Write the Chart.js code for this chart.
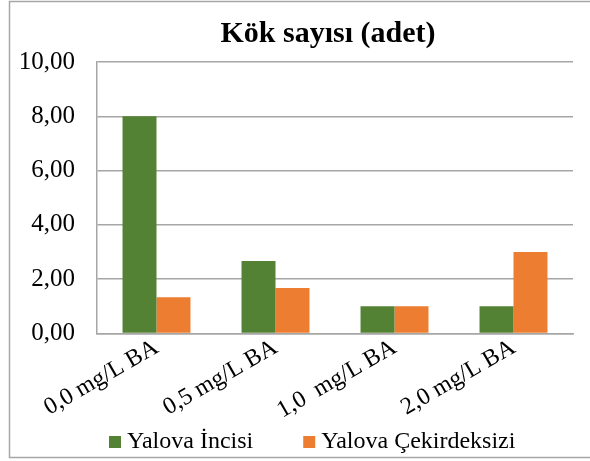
<!DOCTYPE html>
<html>
<head>
<meta charset="utf-8">
<title>Kök sayısı (adet)</title>
<script src="https://cdn.jsdelivr.net/npm/chart.js@4"></script>
<style>
  html, body { margin: 0; padding: 0; background: #fff; }
  #wrap { width: 590px; height: 461px; position: relative; }
</style>
</head>
<body>
<div id="wrap"><canvas id="chart"></canvas></div>
<script>
// chart values
const chartTitle = 'Kök sayısı (adet)';
const categories = ['0,0 mg/L BA', '0,5 mg/L BA', '1,0  mg/L BA', '2,0 mg/L BA'];
const seriesNames = ['Yalova İncisi', 'Yalova Çekirdeksizi'];
const yalovaIncisi = [8.00, 2.67, 1.00, 1.00];
const yalovaCekirdeksizi = [1.33, 1.67, 1.00, 3.00];
const yMin = 0;
const yMax = 10;
const yStep = 2;

const serif = "'Liberation Serif', 'Times New Roman', serif";
const gridGrey = '#a6a6a6';

// white background + outer frame like the Excel chart border
const framePlugin = {
    id: 'frame',
    beforeDraw(chart) {
        const ctx = chart.ctx;
        ctx.save();
        ctx.fillStyle = '#fff';
        ctx.fillRect(0, 0, chart.width, chart.height);
        ctx.strokeStyle = gridGrey;
        ctx.lineWidth = 1.5;
        ctx.strokeRect(9.5, 1.5, chart.width + 10, 456);
        ctx.restore();
    }
};

// center the title over the plot area instead of the whole canvas
const centerTitle = {
    id: 'centerTitle',
    afterLayout(chart) {
        const a = chart.chartArea;
        const box = chart.titleBlock;
        if (!box) return;
        const w = box.right - box.left;
        const mid = (a.left + a.right) / 2 - 7;
        box.left = mid - w / 2;
        box.right = mid + w / 2;
    }
};

// Excel-style legend row under the rotated category labels
const bottomLegend = {
    id: 'bottomLegend',
    afterDraw(chart) {
        const ctx = chart.ctx;
        const a = chart.chartArea;
        ctx.save();
        ctx.font = '24px ' + serif;
        ctx.textBaseline = 'middle';
        let x = a.left + 12;
        const y = 442;
        chart.data.datasets.forEach(ds => {
            ctx.fillStyle = ds.backgroundColor;
            ctx.fillRect(x, y - 6, 12, 12);
            ctx.fillStyle = '#000';
            ctx.fillText(ds.label, x + 18, y);
            x += 18 + ctx.measureText(ds.label).width + 50;
        });
        ctx.restore();
    }
};

new Chart(document.getElementById('chart'), {
    type: 'bar',
    data: {
        labels: categories,
        datasets: [{
            label: seriesNames[0],
            data: yalovaIncisi,
            backgroundColor: '#548235'
        }, {
            label: seriesNames[1],
            data: yalovaCekirdeksizi,
            backgroundColor: '#ED7D31'
        }]
    },
    options: {
        responsive: true,
        maintainAspectRatio: false,
        animation: false,
        layout: { padding: { left: 17, right: 17, top: 4, bottom: 44 } },
        datasets: {
            bar: { categoryPercentage: 0.571, barPercentage: 1.0 }
        },
        plugins: {
            title: {
                display: true,
                text: chartTitle,
                color: '#000',
                font: { family: serif, size: 30, weight: 'bold' },
                padding: { top: 12, bottom: 10 }
            },
            legend: { display: false },
            tooltip: { enabled: false }
        },
        scales: {
            x: {
                grid: { display: false },
                border: { display: true, color: gridGrey, width: 1.5 },
                ticks: {
                    color: '#000',
                    font: { family: serif, size: 24 },
                    minRotation: 30,
                    maxRotation: 30,
                    padding: -8
                },
                // rotated first label may hang past the y labels, like in Excel
                afterFit(scale) { scale.paddingLeft = 0; }
            },
            y: {
                min: yMin,
                max: yMax,
                grid: { color: gridGrey, lineWidth: 1.5, drawTicks: false },
                border: { display: true, color: gridGrey, width: 1.5 },
                ticks: {
                    stepSize: yStep,
                    color: '#000',
                    font: { family: serif, size: 25 },
                    padding: 22,
                    callback: v => v.toFixed(2).replace('.', ',')
                },
                // label width 58 + padding 22, Chart.js measures it too wide
                afterFit(scale) { scale.width = 80; }
            }
        }
    },
    plugins: [framePlugin, centerTitle, bottomLegend]
});
</script>
</body>
</html>
